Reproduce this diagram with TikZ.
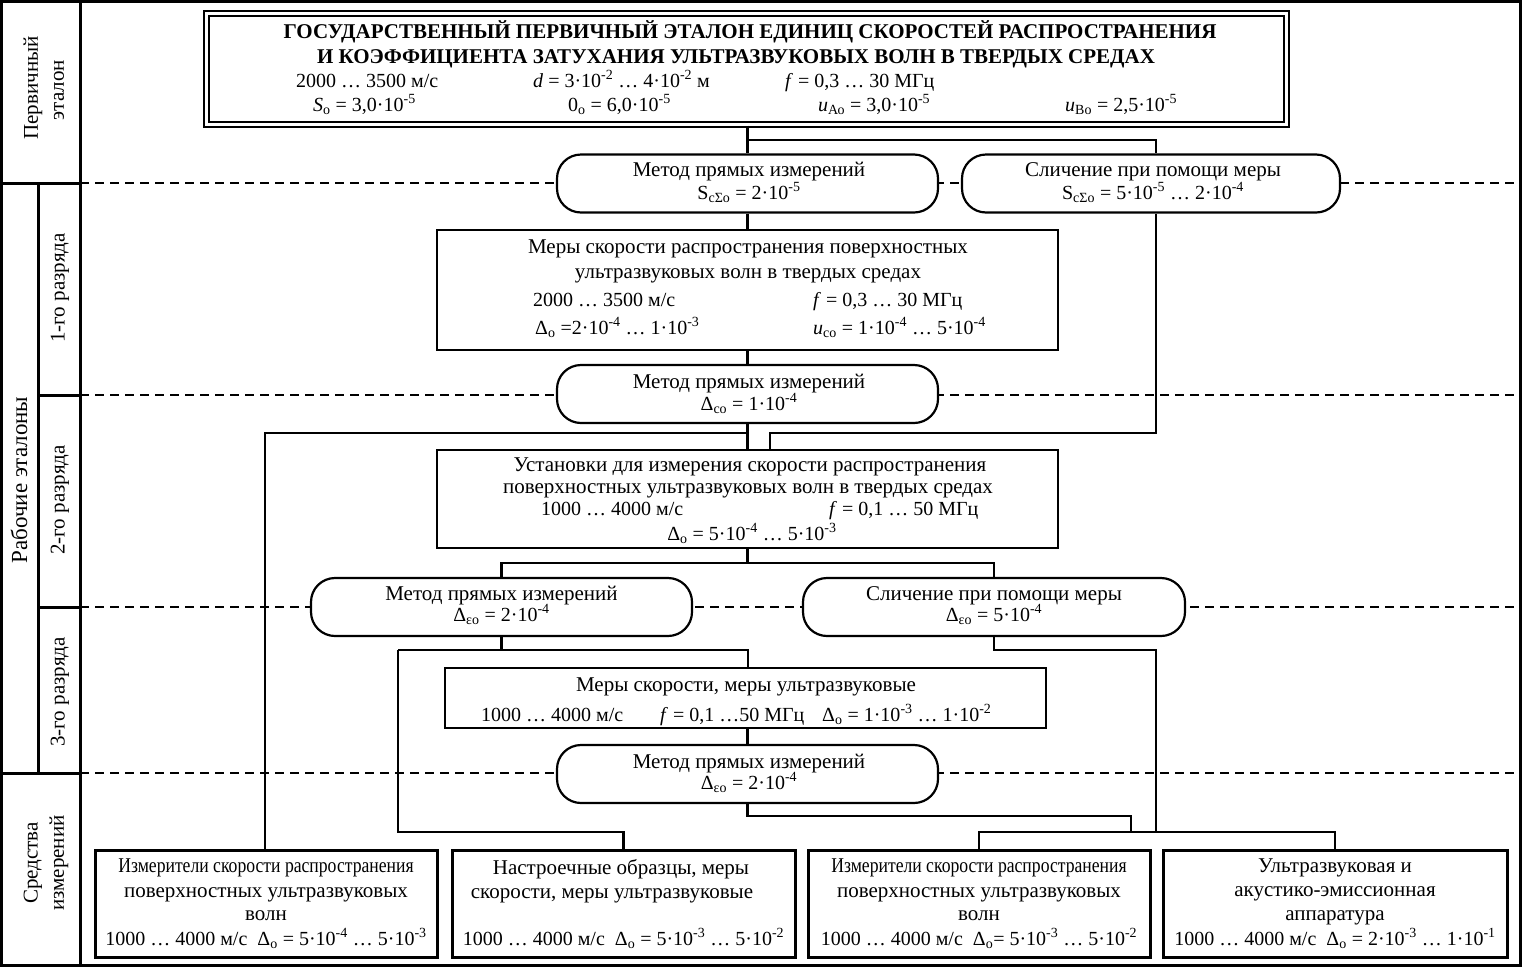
\documentclass[tikz,border=0pt]{standalone}
\usepackage{fontspec}
\setmainfont{Liberation Serif}
\usepackage{graphicx}
\newcommand{\fs}{\fontsize{21}{24}\selectfont}
\newcommand{\fsn}{\fontsize{20}{23}\selectfont}
\newcommand{\fsb}{\fontsize{21}{24}\selectfont\bfseries}
\newcommand{\fsl}{\fontsize{21}{24}\selectfont}
\newcommand{\sps}[1]{\textsuperscript{#1}}
\newcommand{\sbs}[1]{\textsubscript{#1}}
\newcommand{\cnd}[1]{\scalebox{0.84}[1]{#1}}
\begin{document}
\begin{tikzpicture}[x=1pt,y=-1pt,
  boxn/.style={draw,line width=2.5pt,fill=white,inner sep=0pt},
  pill/.style={draw,line width=2.2pt,rounded corners=24pt,fill=white,inner sep=0pt,minimum width=381pt,minimum height=58pt},
  conn/.style={line width=2.5pt},
  dashline/.style={line width=1.2pt,dash pattern=on 9pt off 6pt},
  frame/.style={line width=3pt},
  txt/.style={inner sep=0pt,font=\fs,anchor=base,yshift=-7pt},
  ntxt/.style={inner sep=0pt,font=\fsn,anchor=base,yshift=-7pt},
  ltxt/.style={inner sep=0pt,font=\fsn,anchor=base west,yshift=-7pt},
  rtxt/.style={inner sep=0pt,font=\fsl,rotate=90}]
\useasboundingbox (0,0) rectangle (1522,967);
% dashed level lines
\foreach \yy in {183,395,607,773} \draw[dashline] (80,\yy) -- (1522,\yy);
% frame and left column
\draw[frame] (1.5,1.5) rectangle (1520.5,965.5);
\draw[frame] (80,0) -- (80,967);
\draw[frame] (38,183) -- (38,773);
\draw[frame] (0,183) -- (80,183);
\draw[frame] (0,773) -- (80,773);
\draw[frame] (38,395) -- (80,395);
\draw[frame] (38,607) -- (80,607);
\node[rtxt] (l1) at (33,88) {Первичный};
\node[rtxt] (l2) at (59,90) {эталон};
\node[rtxt,font=\fontsize{23}{26}\selectfont] (l3) at (19,480) {Рабочие эталоны};
\node[rtxt] (l4) at (60,288) {1-го разряда};
\node[rtxt] (l5) at (60,500) {2-го разряда};
\node[rtxt] (l6) at (60,692) {3-го разряда};
\node[rtxt] (l7) at (33,863) {Средства};
\node[rtxt] (l8) at (59,863) {измерений};

% nodes
\node[draw,line width=2.3pt,double,double distance=2.4pt,fill=white,minimum width=1080pt,minimum height=111pt,inner sep=0pt] (top) at (746.5,69) {};
\node[pill] (pA) at (747.5,183.5) {};
\node[pill,minimum width=378pt] (pB) at (1151,183.5) {};
\node[boxn,minimum width=621pt,minimum height=120pt] (b1) at (747.5,290) {};
\node[pill] (pC) at (747.5,394) {};
\node[boxn,minimum width=621pt,minimum height=98pt] (b2) at (747.5,499) {};
\node[pill] (pD) at (501.5,607) {};
\node[pill,minimum width=382pt] (pE) at (994,607) {};
\node[boxn,minimum width=601pt,minimum height=60pt] (b3) at (745.5,698) {};
\node[pill] (pF) at (747.5,774) {};
\node[boxn,line width=3pt,minimum width=342pt,minimum height=107pt] (m1) at (266,903.5) {};
\node[boxn,line width=3pt,minimum width=343pt,minimum height=107pt] (m2) at (623.5,903.5) {};
\node[boxn,line width=3pt,minimum width=342pt,minimum height=107pt] (m3) at (979,903.5) {};
\node[boxn,line width=3pt,minimum width=344pt,minimum height=107pt] (m4) at (1335,903.5) {};

% junctions
\coordinate (j1) at (747.5,140);
\coordinate (j2) at (1156,140);
\coordinate (j3) at (265,433);
\coordinate (j4) at (770,433);
\coordinate (j5) at (747.5,563);
\coordinate (j6) at (398,650);
\coordinate (j7) at (748,650);
\coordinate (j8) at (1156,650);
\coordinate (j9) at (747.5,816);
\coordinate (j10) at (1131,816);
\coordinate (j11) at (398,832);
\coordinate (j12) at (1156,832);

% connectors
\draw[conn] (top.south -| pA.north) -- (pA.north);
\draw[conn] (j1) -- (j2) -- (j2 |- pB.north);
\draw[conn] (pA.south) -- (pA.south |- b1.north);
\draw[conn] (b1.south -| pC.north) -- (pC.north);
\draw[conn] (pC.south) -- (pC.south |- b2.north);
\draw[conn] (pC.south |- j3) -- (j3) -- (j3 |- m1.north);
\draw[conn] (pB.south -| j2) -- (j2 |- j4) -- (j4) -- (j4 |- b2.north);
\draw[conn] (b2.south -| j5) -- (j5);
\draw[conn] (pD.north) -- (pD.north |- j5) -- (pE.north |- j5) -- (pE.north);
\draw[conn] (pD.south) -- (pD.south |- j6);
\draw[conn] (j6) -- (j7) -- (j7 |- b3.north);
\draw[conn] (j6) -- (j11) -- (j11 -| m2.north) -- (m2.north);
\draw[conn] (pE.south) -- (pE.south |- j8) -- (j8) -- (j12);
\draw[conn] (b3.south -| pF.north) -- (pF.north);
\draw[conn] (pF.south) -- (j9) -- (j10) -- (j10 |- j12);
\draw[conn] (m3.north) -- (m3.north |- j12) -- (m4.north |- j12) -- (m4.north);

% texts: top
\node[txt,font=\fsb] (t1) at (750,31) {ГОСУДАРСТВЕННЫЙ ПЕРВИЧНЫЙ ЭТАЛОН ЕДИНИЦ СКОРОСТЕЙ РАСПРОСТРАНЕНИЯ};
\node[txt,font=\fsb] (t2) at (736,56) {И КОЭФФИЦИЕНТА ЗАТУХАНИЯ УЛЬТРАЗВУКОВЫХ ВОЛН В ТВЕРДЫХ СРЕДАХ};
\node[ltxt] (t3) at (296,80) {2000 … 3500 м/с};
\node[ltxt] (t4) at (533,80) {\textit{d} = 3·10\sps{-2} … 4·10\sps{-2} м};
\node[ltxt] (t5) at (785,80) {\textit{f} = 0,3 … 30 МГц};
\node[ltxt] (t6) at (313,104) {\textit{S}\sbs{о} = 3,0·10\sps{-5}};
\node[ltxt] (t7) at (568,104) {0\sbs{о} = 6,0·10\sps{-5}};
\node[ltxt] (t8) at (818,104) {\textit{u}\sbs{Ао} = 3,0·10\sps{-5}};
\node[ltxt] (t9) at (1065,104) {\textit{u}\sbs{Во} = 2,5·10\sps{-5}};
% pills A, B
\node[txt] (a1) at (749,169) {Метод прямых измерений};
\node[ntxt] (a2) at (749,192) {S\sbs{cΣо} = 2·10\sps{-5}};
\node[txt] (bb1) at (1153,169) {Сличение при помощи меры};
\node[ntxt] (bb2) at (1153,192) {S\sbs{cΣо} = 5·10\sps{-5} … 2·10\sps{-4}};
% box b1
\node[txt] (c1) at (748,246) {Меры скорости распространения поверхностных};
\node[txt] (c2) at (748,271) {ультразвуковых волн в твердых средах};
\node[ltxt] (c3) at (533,299) {2000 … 3500 м/с};
\node[ltxt] (c4) at (813,299) {\textit{f} = 0,3 … 30 МГц};
\node[ltxt] (c5) at (535,327) {Δ\sbs{о} =2·10\sps{-4} … 1·10\sps{-3}};
\node[ltxt] (c6) at (813,327) {\textit{u}\sbs{cо} = 1·10\sps{-4} … 5·10\sps{-4}};
% pill C
\node[txt] (d1) at (749,381) {Метод прямых измерений};
\node[ntxt] (d2) at (749,403) {Δ\sbs{cо} = 1·10\sps{-4}};
% box b2
\node[txt] (e1) at (750,464) {Установки для измерения скорости распространения};
\node[txt] (e2) at (748,486) {поверхностных ультразвуковых волн в твердых средах};
\node[ltxt] (e3) at (541,508) {1000 … 4000 м/с};
\node[ltxt] (e4) at (829,508) {\textit{f} = 0,1 … 50 МГц};
\node[ntxt] (e5) at (752,533) {Δ\sbs{о} = 5·10\sps{-4} … 5·10\sps{-3}};
% pills D, E
\node[txt] (f1) at (501.5,593) {Метод прямых измерений};
\node[ntxt] (f2) at (501.5,614) {Δ\sbs{εо} = 2·10\sps{-4}};
\node[txt] (g1) at (994,593) {Сличение при помощи меры};
\node[ntxt] (g2) at (994,614) {Δ\sbs{εо} = 5·10\sps{-4}};
% box b3
\node[txt] (h1) at (746,684) {Меры скорости, меры ультразвуковые};
\node[ltxt] (h2) at (481,714) {1000 … 4000 м/с};
\node[ltxt] (h3) at (660,714) {\textit{f} = 0,1 …50 МГц};
\node[ltxt] (h4) at (822,714) {Δ\sbs{о} = 1·10\sps{-3} … 1·10\sps{-2}};
% pill F
\node[txt] (k1) at (749,761) {Метод прямых измерений};
\node[ntxt] (k2) at (749,782) {Δ\sbs{εо} = 2·10\sps{-4}};
% bottom boxes
\node[txt] (m1a) at (266,865) {\cnd{Измерители скорости распространения}};
\node[txt] (m1b) at (266,890) {поверхностных ультразвуковых};
\node[txt] (m1c) at (266,913) {волн};
\node[ntxt] (m1d) at (266,938) {1000 … 4000 м/с\ \ Δ\sbs{о} = 5·10\sps{-4} … 5·10\sps{-3}};
\node[txt] (m2a) at (621,867) {Настроечные образцы, меры};
\node[txt] (m2b) at (612,891) {скорости, меры ультразвуковые};
\node[ntxt] (m2d) at (623.5,938) {1000 … 4000 м/с\ \ Δ\sbs{о} = 5·10\sps{-3} … 5·10\sps{-2}};
\node[txt] (m3a) at (979,865) {\cnd{Измерители скорости распространения}};
\node[txt] (m3b) at (979,890) {поверхностных ультразвуковых};
\node[txt] (m3c) at (979,913) {волн};
\node[ntxt] (m3d) at (979,938) {1000 … 4000 м/с\ \ Δ\sbs{о}= 5·10\sps{-3} … 5·10\sps{-2}};
\node[txt] (m4a) at (1335,865) {Ультразвуковая и};
\node[txt] (m4b) at (1335,889) {акустико-эмиссионная};
\node[txt] (m4c) at (1335,913) {аппаратура};
\node[ntxt] (m4d) at (1335,938) {1000 … 4000 м/с\ \ Δ\sbs{о} = 2·10\sps{-3} … 1·10\sps{-1}};
\end{tikzpicture}
\end{document}
